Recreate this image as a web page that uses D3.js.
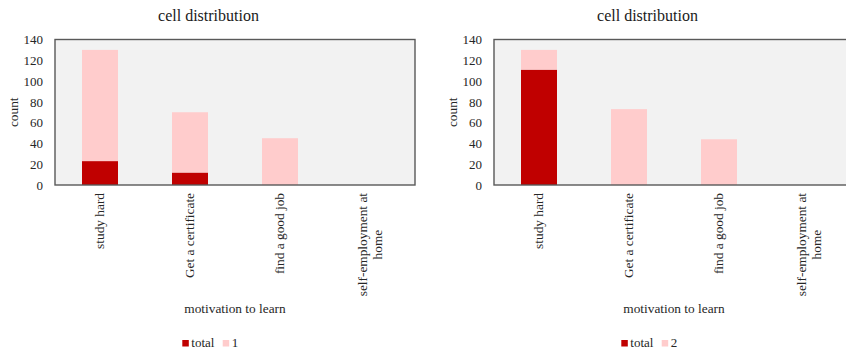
<!DOCTYPE html>
<html>
<head>
<meta charset="utf-8">
<script src="https://cdn.jsdelivr.net/npm/d3@7"></script>
<style>
  html, body { margin: 0; padding: 0; background: #fff; }
  svg { display: block; }
  svg text { font-family: "Liberation Serif", "Times New Roman", serif; }
</style>
</head>
<body>
<svg id="chart" width="846" height="351"></svg>
<script>
// Motivation categories shared by both panels
const categories = ["study hard", "Get a certificate", "find a good job", "self-employment at home"];

// Left panel: "total" plus cell 1 stacked on top
const leftTotal = [23, 12, 0, 0];
const leftCell = [107, 58, 45, 0];
const leftCellName = "1";

// Right panel: "total" plus cell 2 stacked on top
const rightTotal = [111, 0, 0, 0];
const rightCell = [19, 73, 44, 0];
const rightCellName = "2";

const yTicks = [0, 20, 40, 60, 80, 100, 120, 140];
const titleText = "cell distribution";
const xTitle = "motivation to learn";
const yTitle = "count";

const colors = { total: "#C00000", cell: "#FFCCCC" };
const textColor = "#262626";
const serif = "'Liberation Serif', 'Times New Roman', serif";

const svg = d3.select("#chart");
const plotW = 360, plotTop = 39.5, plotBottom = 185;

function wrapLines(text, width, node) {
  const words = text.split(/\s+/);
  const lines = [];
  let line = [];
  for (const w of words) {
    const trial = line.concat(w).join(" ");
    node.text(trial);
    if (node.node().getComputedTextLength() > width && line.length) {
      lines.push(line.join(" "));
      line = [w];
    } else {
      line.push(w);
    }
  }
  if (line.length) lines.push(line.join(" "));
  return lines;
}

function drawPanel(left, totalVals, cellVals, cellName) {
  const g = svg.append("g").attr("transform", `translate(${left},0)`)
    .style("font-family", serif);

  const rows = categories.map((c, i) => ({ cat: c, total: totalVals[i], cell: cellVals[i] }));
  const stacked = d3.stack().keys(["total", "cell"])(rows);

  const x = d3.scaleBand().domain(categories).range([0, plotW]).paddingInner(0.6).paddingOuter(0.3);
  const y = d3.scaleLinear().domain([0, 140]).range([plotBottom, plotTop]);

  // Plot area background
  g.append("rect")
    .attr("x", 0).attr("y", plotTop)
    .attr("width", plotW).attr("height", plotBottom - plotTop)
    .attr("fill", "#F2F2F2");

  // Stacked bars
  g.selectAll("g.layer")
    .data(stacked)
    .join("g")
    .attr("class", "layer")
    .attr("fill", d => colors[d.key])
    .selectAll("rect")
    .data(d => d)
    .join("rect")
    .attr("x", d => x(d.data.cat))
    .attr("width", x.bandwidth())
    .attr("y", d => y(d[1]))
    .attr("height", d => Math.max(0, y(d[0]) - y(d[1])));

  // Plot border
  g.append("rect")
    .attr("x", 0).attr("y", plotTop)
    .attr("width", plotW).attr("height", plotBottom - plotTop)
    .attr("fill", "none")
    .attr("stroke", "#595959")
    .attr("stroke-width", 1.4);

  // Y axis labels
  const yAxis = d3.axisLeft(y).tickValues(yTicks).tickSize(0).tickPadding(12);
  const ya = g.append("g").call(yAxis)
    .attr("font-family", null)
    .style("font-family", serif);
  ya.select(".domain").remove();
  ya.selectAll("text")
    .style("font-family", serif)
    .attr("font-size", 13)
    .attr("fill", textColor);

  // Rotated category labels, wrapped and centred line-by-line
  const labelTop = plotBottom + 8;
  const lineH = 15;
  categories.forEach(c => {
    const cx = x(c) + x.bandwidth() / 2;
    const t = g.append("text")
      .style("font-family", serif)
      .attr("font-size", 13.33)
      .attr("fill", textColor)
      .attr("transform", `translate(${cx},${labelTop}) rotate(-90)`);
    const lines = wrapLines(c, 110, t);
    t.text(null);
    const lens = lines.map(l => { t.text(l); return t.node().getComputedTextLength(); });
    t.text(null);
    const maxLen = d3.max(lens);
    lines.forEach((l, i) => {
      t.append("tspan")
        .attr("x", -maxLen / 2)
        .attr("y", (i - (lines.length - 1) / 2) * lineH)
        .attr("dy", "0.32em")
        .attr("text-anchor", "middle")
        .text(l);
    });
  });

  // Titles
  g.append("text")
    .style("font-family", serif)
    .attr("x", 153.5).attr("y", 21)
    .attr("text-anchor", "middle")
    .attr("font-size", 16)
    .attr("fill", "#1a1a1a")
    .text(titleText);

  g.append("text")
    .style("font-family", serif)
    .attr("x", plotW / 2).attr("y", 313)
    .attr("text-anchor", "middle")
    .attr("font-size", 13.33)
    .attr("fill", textColor)
    .text(xTitle);

  g.append("text")
    .style("font-family", serif)
    .attr("transform", `translate(${-41.7},${(plotTop + plotBottom) / 2}) rotate(-90)`)
    .attr("text-anchor", "middle")
    .attr("dy", "0.32em")
    .attr("font-size", 13.33)
    .attr("fill", textColor)
    .text(yTitle);

  // Legend
  const legend = [
    { name: "total", color: colors.total, x: 127.3 },
    { name: cellName, color: colors.cell, x: 167.7 }
  ];
  const lg = g.append("g");
  legend.forEach(it => {
    lg.append("rect")
      .attr("x", it.x).attr("y", 340)
      .attr("width", 6.5).attr("height", 6.5)
      .attr("fill", it.color);
    lg.append("text")
      .style("font-family", serif)
      .attr("x", it.x + 9).attr("y", 347)
      .attr("font-size", 13)
      .attr("fill", textColor)
      .text(it.name);
  });
}

drawPanel(55, leftTotal, leftCell, leftCellName);
drawPanel(494, rightTotal, rightCell, rightCellName);
</script>
</body>
</html>
